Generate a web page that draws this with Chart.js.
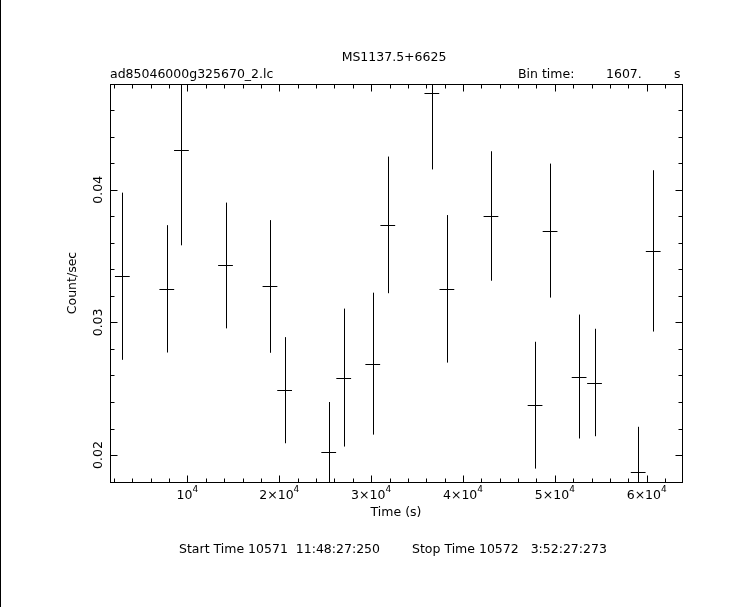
<!DOCTYPE html>
<html>
<head>
<meta charset="utf-8">
<script src="https://cdn.jsdelivr.net/npm/chart.js@4.4.1/dist/chart.umd.min.js"></script>
<style>
  html, body { margin: 0; padding: 0; background: #fff; }
  #wrap { width: 743px; height: 607px; position: relative; }
  canvas { display: block; }
</style>
</head>
<body>
<div id="wrap"><canvas id="lc" width="743" height="607"></canvas></div>
<script>
(function() {
    'use strict';

    // light curve bins (time in s, rate in count/sec, 1-sigma error)
    const binTime = 1607;
    const times = [2912, 7753, 9347, 14144, 18985, 20580, 25380, 27013, 30175, 31810,
                   36608, 38245, 43043, 47843, 49479, 52640, 54316, 59070, 60707];
    const rates = [0.03348, 0.03253, 0.04298, 0.03429, 0.03271, 0.02489, 0.02025, 0.02584, 0.02689, 0.03735,
                   0.04727, 0.03253, 0.03802, 0.02376, 0.03692, 0.02592, 0.02547, 0.01872, 0.03539];
    const errors = [0.0063, 0.0048, 0.00717, 0.00474, 0.0050, 0.0040, 0.00375, 0.0052, 0.00535, 0.00515,
                    0.00574, 0.00556, 0.00488, 0.00478, 0.00505, 0.00467, 0.00405, 0.00341, 0.00608];

    const xMajorTicks = [10000, 20000, 30000, 40000, 50000, 60000];
    const xMajorLabels = [['', '10', '4'], ['2\u00d7', '10', '4'], ['3\u00d7', '10', '4'],
                          ['4\u00d7', '10', '4'], ['5\u00d7', '10', '4'], ['6\u00d7', '10', '4']];
    const yMajorTicks = [0.02, 0.03, 0.04];
    const yMajorLabels = ['0.02', '0.03', '0.04'];

    const xRange = [1570, 63840];
    const yRange = [0.01797, 0.04797];

    const FONT = '"DejaVu Sans", "Liberation Sans", sans-serif';
    const SIZE = '12.5px ';

    const frameAndText = {
        id: 'frameAndText',
        afterDatasetsDraw: function(chart) {
            const ctx = chart.ctx;
            const a = chart.chartArea;
            const xs = chart.scales.x;
            const ys = chart.scales.y;

            ctx.save();
            // error bars
            ctx.beginPath();
            ctx.rect(a.left, a.top, a.right - a.left, a.bottom - a.top);
            ctx.clip();
            ctx.strokeStyle = '#000';
            ctx.lineWidth = 1;
            ctx.beginPath();
            for (let i = 0; i < times.length; i++) {
                const px = Math.round(xs.getPixelForValue(times[i])) + 0.5;
                const y1 = ys.getPixelForValue(rates[i] + errors[i]);
                const y2 = ys.getPixelForValue(rates[i] - errors[i]);
                ctx.moveTo(px, y1);
                ctx.lineTo(px, y2);
                const py = Math.round(ys.getPixelForValue(rates[i])) + 0.5;
                ctx.moveTo(xs.getPixelForValue(times[i] - binTime / 2), py);
                ctx.lineTo(xs.getPixelForValue(times[i] + binTime / 2), py);
            }
            ctx.stroke();
            ctx.restore();

            ctx.save();
            ctx.strokeStyle = '#000';
            ctx.lineWidth = 1;
            const L = Math.round(a.left) + 0.5, R = Math.round(a.right) + 0.5;
            const T = Math.round(a.top) + 0.5, B = Math.round(a.bottom) + 0.5;
            ctx.strokeRect(L, T, R - L, B - T);

            // ticks on all four sides
            ctx.beginPath();
            for (let v = 2000; v < xRange[1]; v += 2000) {
                if (v < xRange[0]) continue;
                const px = Math.round(xs.getPixelForValue(v)) + 0.5;
                const len = v % 10000 === 0 ? 7 : 4;
                ctx.moveTo(px, B); ctx.lineTo(px, B - len);
                ctx.moveTo(px, T); ctx.lineTo(px, T + len);
            }
            for (let k = 18; k <= 47; k += 2) {
                const v = k / 1000;
                const py = Math.round(ys.getPixelForValue(v)) + 0.5;
                const len = k % 10 === 0 ? 7 : 4;
                ctx.moveTo(L, py); ctx.lineTo(L + len, py);
                ctx.moveTo(R, py); ctx.lineTo(R - len, py);
            }
            ctx.stroke();

            // tick labels
            ctx.fillStyle = '#000';
            ctx.textBaseline = 'alphabetic';
            xMajorTicks.forEach(function(v, i) {
                const px = xs.getPixelForValue(v);
                const lab = xMajorLabels[i];
                ctx.font = SIZE + FONT;
                const w1 = ctx.measureText(lab[0] + lab[1]).width;
                ctx.font = '9px ' + FONT;
                const w2 = ctx.measureText(lab[2]).width;
                let x0 = px - (w1 + w2) / 2;
                ctx.font = SIZE + FONT;
                ctx.textAlign = 'left';
                ctx.fillText(lab[0] + lab[1], x0, 499);
                ctx.font = '9px ' + FONT;
                ctx.fillText(lab[2], x0 + w1, 492);
            });
            ctx.font = SIZE + FONT;
            ctx.textAlign = 'center';
            yMajorTicks.forEach(function(v, i) {
                const py = ys.getPixelForValue(v);
                ctx.save();
                ctx.translate(102, py);
                ctx.rotate(-Math.PI / 2);
                ctx.fillText(yMajorLabels[i], 0, 0);
                ctx.restore();
            });

            // axis titles and header
            ctx.fillText('Time (s)', (a.left + a.right) / 2, 516);
            ctx.save();
            ctx.translate(76, (a.top + a.bottom) / 2);
            ctx.rotate(-Math.PI / 2);
            ctx.fillText('Count/sec', 0, 0);
            ctx.restore();

            ctx.fillText('MS1137.5+6625', 394, 61);
            ctx.textAlign = 'left';
            ctx.fillText('ad85046000g325670_2.lc', 110, 78);
            ctx.fillText('Bin time:', 518, 78);
            ctx.fillText('1607.', 606, 78);
            ctx.fillText('s', 674, 78);

            ctx.fillText('Start Time 10571  11:48:27:250', 179, 553);
            ctx.fillText('Stop Time 10572   3:52:27:273', 412, 553);
            ctx.restore();

            // page border on the left
            ctx.save();
            ctx.fillStyle = '#000';
            ctx.fillRect(0, 0, 1, chart.height);
            ctx.restore();
        }
    };

    const points = times.map(function(t, i) { return { x: t, y: rates[i] }; });

    new Chart(document.getElementById('lc'), {
        type: 'scatter',
        data: {
            datasets: [{
                data: points,
                pointRadius: 0,
                pointHoverRadius: 0,
                showLine: false
            }]
        },
        options: {
            responsive: false,
            animation: false,
            devicePixelRatio: 1,
            layout: { padding: { left: 110, top: 84, right: 61, bottom: 125 } },
            plugins: {
                legend: { display: false },
                tooltip: { enabled: false }
            },
            scales: {
                x: { type: 'linear', display: false, min: xRange[0], max: xRange[1] },
                y: { type: 'linear', display: false, min: yRange[0], max: yRange[1] }
            }
        },
        plugins: [frameAndText]
    });
})();
</script>
</body>
</html>
